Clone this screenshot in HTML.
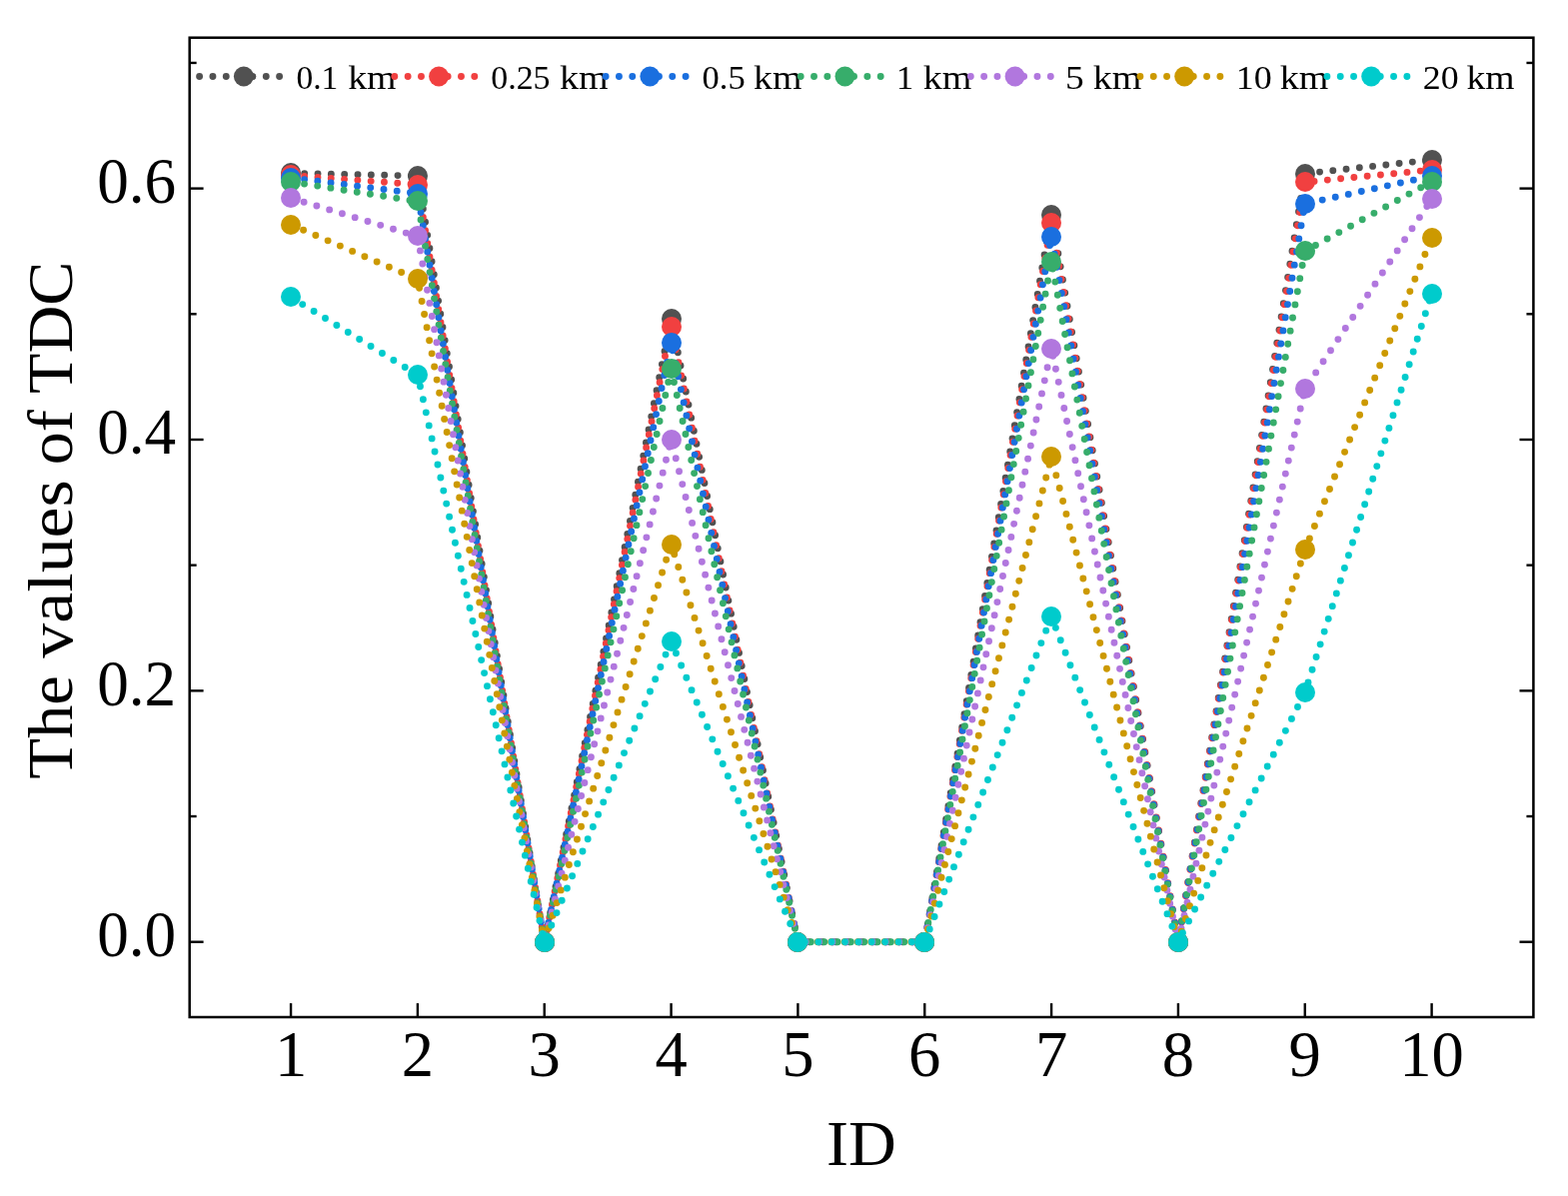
<!DOCTYPE html>
<html lang="en"><head><meta charset="utf-8"><title>The values of TDC</title>
<style>html,body{margin:0;padding:0;background:#fff;}body{width:1569px;height:1197px;overflow:hidden;}svg{display:block;}text{font-family:"Liberation Serif", "DejaVu Serif", serif;fill:#000;}</style>
</head><body>
<svg width="1569" height="1197" viewBox="0 0 1569 1197">
<rect x="0" y="0" width="1569" height="1197" fill="#ffffff"/>
<g id="series" fill="none" stroke-linecap="round" stroke-linejoin="round">
<polyline points="291.05,173.30 417.89,176.00 544.73,942.70 671.57,319.50 798.41,942.70 925.25,942.70 1052.09,214.90 1178.93,942.70 1305.77,173.70 1432.61,160.00" stroke="#515151" stroke-width="6.90" stroke-dasharray="0 13.3361" stroke-dashoffset="-0.30"/>
<g fill="#515151" stroke="none"><circle cx="291.00" cy="173.00" r="10.00"/><circle cx="418.00" cy="176.00" r="10.00"/><circle cx="545.00" cy="943.00" r="10.00"/><circle cx="672.00" cy="319.00" r="10.00"/><circle cx="798.00" cy="943.00" r="10.00"/><circle cx="925.00" cy="943.00" r="10.00"/><circle cx="1052.00" cy="215.00" r="10.00"/><circle cx="1179.00" cy="943.00" r="10.00"/><circle cx="1306.00" cy="174.00" r="10.00"/><circle cx="1433.00" cy="160.00" r="10.00"/></g>
<polyline points="291.05,175.40 417.89,184.80 544.73,942.70 671.57,327.00 798.41,942.70 925.25,942.70 1052.09,222.90 1178.93,942.70 1305.77,182.30 1432.61,170.00" stroke="#F14040" stroke-width="6.90" stroke-dasharray="0 13.3376" stroke-dashoffset="-0.30"/>
<g fill="#F14040" stroke="none"><circle cx="291.00" cy="175.00" r="10.00"/><circle cx="418.00" cy="185.00" r="10.00"/><circle cx="545.00" cy="943.00" r="10.00"/><circle cx="672.00" cy="327.00" r="10.00"/><circle cx="798.00" cy="943.00" r="10.00"/><circle cx="925.00" cy="943.00" r="10.00"/><circle cx="1052.00" cy="223.00" r="10.00"/><circle cx="1179.00" cy="943.00" r="10.00"/><circle cx="1306.00" cy="182.00" r="10.00"/><circle cx="1433.00" cy="170.00" r="10.00"/></g>
<polyline points="291.05,177.90 417.89,193.70 544.73,942.70 671.57,343.50 798.41,942.70 925.25,942.70 1052.09,236.70 1178.93,942.70 1305.77,203.90 1432.61,176.20" stroke="#1A6FDF" stroke-width="6.90" stroke-dasharray="0 13.3365" stroke-dashoffset="-0.30"/>
<g fill="#1A6FDF" stroke="none"><circle cx="291.00" cy="178.00" r="10.00"/><circle cx="418.00" cy="194.00" r="10.00"/><circle cx="545.00" cy="943.00" r="10.00"/><circle cx="672.00" cy="343.00" r="10.00"/><circle cx="798.00" cy="943.00" r="10.00"/><circle cx="925.00" cy="943.00" r="10.00"/><circle cx="1052.00" cy="237.00" r="10.00"/><circle cx="1179.00" cy="943.00" r="10.00"/><circle cx="1306.00" cy="204.00" r="10.00"/><circle cx="1433.00" cy="176.00" r="10.00"/></g>
<polyline points="291.05,182.00 417.89,201.60 544.73,942.70 671.57,369.40 798.41,942.70 925.25,942.70 1052.09,261.90 1178.93,942.70 1305.77,251.30 1432.61,181.70" stroke="#37AD6B" stroke-width="6.90" stroke-dasharray="0 13.3372" stroke-dashoffset="-0.30"/>
<g fill="#37AD6B" stroke="none"><circle cx="291.00" cy="182.00" r="10.00"/><circle cx="418.00" cy="201.00" r="10.00"/><circle cx="545.00" cy="943.00" r="10.00"/><circle cx="672.00" cy="369.00" r="10.00"/><circle cx="798.00" cy="943.00" r="10.00"/><circle cx="925.00" cy="943.00" r="10.00"/><circle cx="1052.00" cy="262.00" r="10.00"/><circle cx="1179.00" cy="943.00" r="10.00"/><circle cx="1306.00" cy="251.00" r="10.00"/><circle cx="1433.00" cy="182.00" r="10.00"/></g>
<polyline points="291.05,198.25 417.89,236.60 544.73,942.70 671.57,440.10 798.41,942.70 925.25,942.70 1052.09,349.00 1178.93,942.70 1305.77,389.20 1432.61,199.40" stroke="#B177DE" stroke-width="6.90" stroke-dasharray="0 13.3386" stroke-dashoffset="-0.30"/>
<g fill="#B177DE" stroke="none"><circle cx="291.00" cy="198.00" r="10.00"/><circle cx="418.00" cy="236.00" r="10.00"/><circle cx="545.00" cy="943.00" r="10.00"/><circle cx="672.00" cy="440.00" r="10.00"/><circle cx="798.00" cy="943.00" r="10.00"/><circle cx="925.00" cy="943.00" r="10.00"/><circle cx="1052.00" cy="349.00" r="10.00"/><circle cx="1179.00" cy="943.00" r="10.00"/><circle cx="1306.00" cy="389.00" r="10.00"/><circle cx="1433.00" cy="199.00" r="10.00"/></g>
<polyline points="291.05,224.90 417.89,279.50 544.73,942.70 671.57,544.85 798.41,942.70 925.25,942.70 1052.09,457.50 1178.93,942.70 1305.77,550.30 1432.61,238.05" stroke="#CC9900" stroke-width="6.90" stroke-dasharray="0 13.3447" stroke-dashoffset="-0.30"/>
<g fill="#CC9900" stroke="none"><circle cx="291.00" cy="225.00" r="10.00"/><circle cx="418.00" cy="279.00" r="10.00"/><circle cx="545.00" cy="943.00" r="10.00"/><circle cx="672.00" cy="545.00" r="10.00"/><circle cx="798.00" cy="943.00" r="10.00"/><circle cx="925.00" cy="943.00" r="10.00"/><circle cx="1052.00" cy="457.00" r="10.00"/><circle cx="1179.00" cy="943.00" r="10.00"/><circle cx="1306.00" cy="550.00" r="10.00"/><circle cx="1433.00" cy="238.00" r="10.00"/></g>
<polyline points="291.05,297.45 417.89,375.20 544.73,942.70 671.57,642.10 798.41,942.70 925.25,942.70 1052.09,617.30 1178.93,942.70 1305.77,693.20 1432.61,294.06" stroke="#00CBCC" stroke-width="6.90" stroke-dasharray="0 13.3604" stroke-dashoffset="-0.30"/>
<g fill="#00CBCC" stroke="none"><circle cx="291.00" cy="297.00" r="10.00"/><circle cx="418.00" cy="375.00" r="10.00"/><circle cx="545.00" cy="943.00" r="10.00"/><circle cx="672.00" cy="642.00" r="10.00"/><circle cx="798.00" cy="943.00" r="10.00"/><circle cx="925.00" cy="943.00" r="10.00"/><circle cx="1052.00" cy="617.00" r="10.00"/><circle cx="1179.00" cy="943.00" r="10.00"/><circle cx="1306.00" cy="693.00" r="10.00"/><circle cx="1433.00" cy="294.00" r="10.00"/></g>
</g>
<g id="legend">
<line x1="199.30" y1="76.50" x2="288.50" y2="76.50" stroke="#515151" stroke-width="6.90" stroke-linecap="round" stroke-dasharray="0 13.3333" stroke-dashoffset="-0.30"/>
<circle cx="243.90" cy="76.50" r="10.00" fill="#515151"/>
<text id="leg0" y="88.95" font-size="34.20"><tspan x="296.43" textLength="41.83" lengthAdjust="spacingAndGlyphs">0.1</tspan> <tspan x="348.19" font-size="33.40" textLength="48.34" lengthAdjust="spacingAndGlyphs">km</tspan></text>
<line x1="394.50" y1="76.50" x2="483.70" y2="76.50" stroke="#F14040" stroke-width="6.90" stroke-linecap="round" stroke-dasharray="0 13.3333" stroke-dashoffset="-0.30"/>
<circle cx="439.10" cy="76.50" r="10.00" fill="#F14040"/>
<text id="leg1" y="88.95" font-size="34.20"><tspan x="491.26" textLength="59.28" lengthAdjust="spacingAndGlyphs">0.25</tspan> <tspan x="560.09" font-size="33.40" textLength="48.54" lengthAdjust="spacingAndGlyphs">km</tspan></text>
<line x1="605.80" y1="76.50" x2="695.00" y2="76.50" stroke="#1A6FDF" stroke-width="6.90" stroke-linecap="round" stroke-dasharray="0 13.3333" stroke-dashoffset="-0.30"/>
<circle cx="650.40" cy="76.50" r="10.00" fill="#1A6FDF"/>
<text id="leg2" y="88.95" font-size="34.20"><tspan x="702.54" textLength="43.15" lengthAdjust="spacingAndGlyphs">0.5</tspan> <tspan x="753.99" font-size="33.40" textLength="48.34" lengthAdjust="spacingAndGlyphs">km</tspan></text>
<line x1="800.90" y1="76.50" x2="890.10" y2="76.50" stroke="#37AD6B" stroke-width="6.90" stroke-linecap="round" stroke-dasharray="0 13.3333" stroke-dashoffset="-0.30"/>
<circle cx="845.50" cy="76.50" r="10.00" fill="#37AD6B"/>
<text id="leg3" y="88.95" font-size="34.20"><tspan x="896.82" textLength="17.53" lengthAdjust="spacingAndGlyphs">1</tspan> <tspan x="923.69" font-size="33.40" textLength="48.54" lengthAdjust="spacingAndGlyphs">km</tspan></text>
<line x1="971.00" y1="76.50" x2="1060.20" y2="76.50" stroke="#B177DE" stroke-width="6.90" stroke-linecap="round" stroke-dasharray="0 13.3333" stroke-dashoffset="-0.30"/>
<circle cx="1015.60" cy="76.50" r="10.00" fill="#B177DE"/>
<text id="leg4" y="88.95" font-size="34.20"><tspan x="1066.12" textLength="18.66" lengthAdjust="spacingAndGlyphs">5</tspan> <tspan x="1093.69" font-size="33.40" textLength="48.54" lengthAdjust="spacingAndGlyphs">km</tspan></text>
<line x1="1140.60" y1="76.50" x2="1229.80" y2="76.50" stroke="#CC9900" stroke-width="6.90" stroke-linecap="round" stroke-dasharray="0 13.3333" stroke-dashoffset="-0.30"/>
<circle cx="1185.20" cy="76.50" r="10.00" fill="#CC9900"/>
<text id="leg5" y="88.95" font-size="34.20"><tspan x="1236.75" textLength="35.95" lengthAdjust="spacingAndGlyphs">10</tspan> <tspan x="1280.69" font-size="33.40" textLength="48.54" lengthAdjust="spacingAndGlyphs">km</tspan></text>
<line x1="1327.60" y1="76.50" x2="1416.80" y2="76.50" stroke="#00CBCC" stroke-width="6.90" stroke-linecap="round" stroke-dasharray="0 13.3333" stroke-dashoffset="-0.30"/>
<circle cx="1372.20" cy="76.50" r="10.00" fill="#00CBCC"/>
<text id="leg6" y="88.95" font-size="34.20"><tspan x="1423.73" textLength="35.86" lengthAdjust="spacingAndGlyphs">20</tspan> <tspan x="1467.50" font-size="33.40" textLength="48.03" lengthAdjust="spacingAndGlyphs">km</tspan></text>
</g>
<g id="axes" stroke="#000" stroke-width="2.50" fill="none" stroke-linecap="butt">
<rect x="189.70" y="37.70" width="1344.70" height="980.30" stroke-linejoin="miter"/>
<line x1="291.05" y1="1018.00" x2="291.05" y2="1004.10" stroke-width="2.40"/>
<line x1="417.89" y1="1018.00" x2="417.89" y2="1004.10" stroke-width="2.40"/>
<line x1="544.73" y1="1018.00" x2="544.73" y2="1004.10" stroke-width="2.40"/>
<line x1="671.57" y1="1018.00" x2="671.57" y2="1004.10" stroke-width="2.40"/>
<line x1="798.41" y1="1018.00" x2="798.41" y2="1004.10" stroke-width="2.40"/>
<line x1="925.25" y1="1018.00" x2="925.25" y2="1004.10" stroke-width="2.40"/>
<line x1="1052.09" y1="1018.00" x2="1052.09" y2="1004.10" stroke-width="2.40"/>
<line x1="1178.93" y1="1018.00" x2="1178.93" y2="1004.10" stroke-width="2.40"/>
<line x1="1305.77" y1="1018.00" x2="1305.77" y2="1004.10" stroke-width="2.40"/>
<line x1="1432.61" y1="1018.00" x2="1432.61" y2="1004.10" stroke-width="2.40"/>
<line x1="189.70" y1="942.70" x2="203.60" y2="942.70" stroke-width="2.40"/>
<line x1="1534.40" y1="942.70" x2="1520.50" y2="942.70" stroke-width="2.40"/>
<line x1="189.70" y1="817.02" x2="196.65" y2="817.02" stroke-width="2.40"/>
<line x1="1534.40" y1="817.02" x2="1527.45" y2="817.02" stroke-width="2.40"/>
<line x1="189.70" y1="691.34" x2="203.60" y2="691.34" stroke-width="2.40"/>
<line x1="1534.40" y1="691.34" x2="1520.50" y2="691.34" stroke-width="2.40"/>
<line x1="189.70" y1="565.66" x2="196.65" y2="565.66" stroke-width="2.40"/>
<line x1="1534.40" y1="565.66" x2="1527.45" y2="565.66" stroke-width="2.40"/>
<line x1="189.70" y1="439.98" x2="203.60" y2="439.98" stroke-width="2.40"/>
<line x1="1534.40" y1="439.98" x2="1520.50" y2="439.98" stroke-width="2.40"/>
<line x1="189.70" y1="314.30" x2="196.65" y2="314.30" stroke-width="2.40"/>
<line x1="1534.40" y1="314.30" x2="1527.45" y2="314.30" stroke-width="2.40"/>
<line x1="189.70" y1="188.62" x2="203.60" y2="188.62" stroke-width="2.40"/>
<line x1="1534.40" y1="188.62" x2="1520.50" y2="188.62" stroke-width="2.40"/>
<line x1="189.70" y1="62.94" x2="196.65" y2="62.94" stroke-width="2.40"/>
<line x1="1534.40" y1="62.94" x2="1527.45" y2="62.94" stroke-width="2.40"/>
</g>
<g id="ticklabels" font-size="64.60">
<text id="xt1" x="291.05" y="1076.90" text-anchor="middle">1</text>
<text id="xt2" x="417.89" y="1076.90" text-anchor="middle">2</text>
<text id="xt3" x="544.73" y="1076.90" text-anchor="middle">3</text>
<text id="xt4" x="671.57" y="1076.90" text-anchor="middle">4</text>
<text id="xt5" x="798.41" y="1076.90" text-anchor="middle">5</text>
<text id="xt6" x="925.25" y="1076.90" text-anchor="middle">6</text>
<text id="xt7" x="1052.09" y="1076.90" text-anchor="middle">7</text>
<text id="xt8" x="1178.93" y="1076.90" text-anchor="middle">8</text>
<text id="xt9" x="1305.77" y="1076.90" text-anchor="middle">9</text>
<text id="xt10" x="1432.61" y="1076.90" text-anchor="middle">10</text>
<text id="yt0" x="97.15" y="956.60" textLength="78.99" lengthAdjust="spacingAndGlyphs">0.0</text>
<text id="yt2" x="97.15" y="705.94" textLength="78.99" lengthAdjust="spacingAndGlyphs">0.2</text>
<text id="yt4" x="97.15" y="453.78" textLength="78.99" lengthAdjust="spacingAndGlyphs">0.4</text>
<text id="yt6" x="97.15" y="202.52" textLength="78.99" lengthAdjust="spacingAndGlyphs">0.6</text>
</g>
<text id="xlabel" x="826.95" y="1166.30" font-size="63.50" textLength="69.86" lengthAdjust="spacingAndGlyphs">ID</text>
<text id="ylabel" transform="translate(72.40,0) rotate(-90)" font-size="63.50"><tspan x="-779.88" textLength="103.92" lengthAdjust="spacingAndGlyphs">The</tspan> <tspan x="-658.70" textLength="178.48" lengthAdjust="spacingAndGlyphs">values</tspan> <tspan x="-465.28" textLength="55.20" lengthAdjust="spacingAndGlyphs">of</tspan> <tspan x="-393.97" textLength="132.32" lengthAdjust="spacingAndGlyphs">TDC</tspan></text>
</svg>
</body></html>
